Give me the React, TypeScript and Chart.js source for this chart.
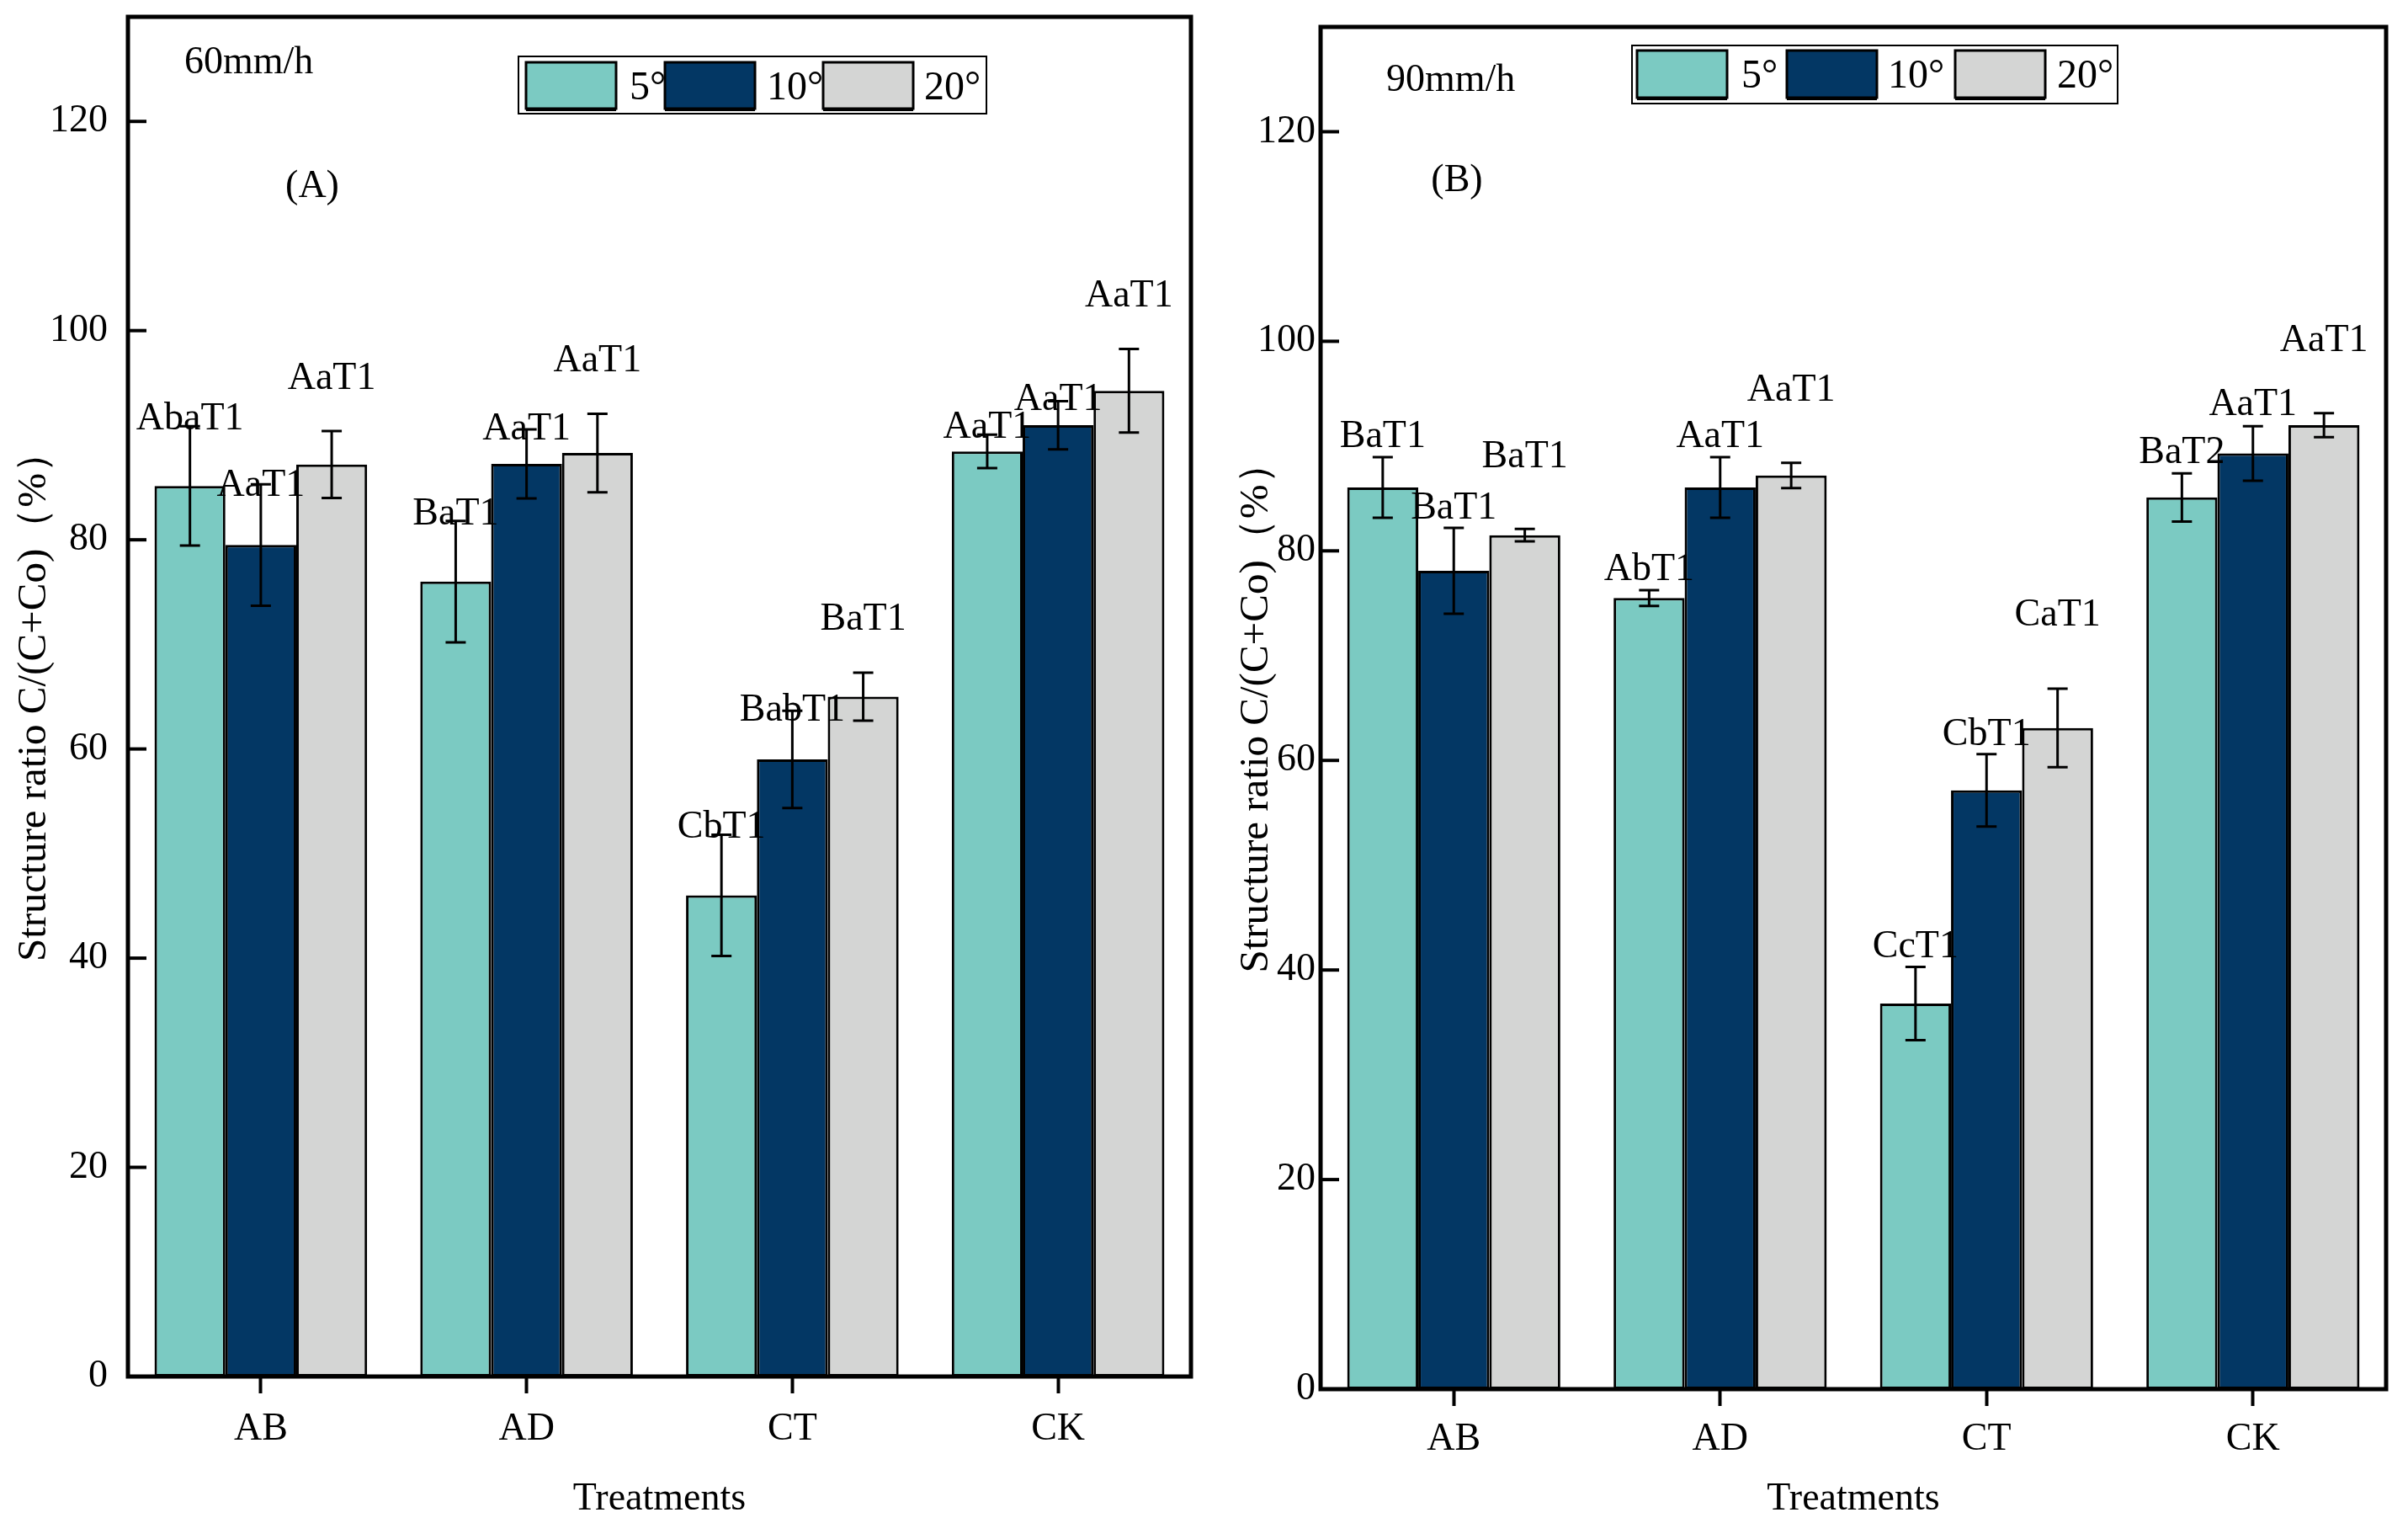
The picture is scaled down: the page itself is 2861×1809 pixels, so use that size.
import React, { useEffect, useRef } from 'react';
import { Chart, registerables } from 'chart.js';

Chart.register(...registerables);

const categories = ['AB', 'AD', 'CT', 'CK'];
const seriesNames = ['5°', '10°', '20°'];
const colors = ['#7BCAC2', '#033764', '#D4D5D4'];
const yTicks = [0, 20, 40, 60, 80, 100, 120];

// panel A, 60 mm/h
const a5 = [85.15, 76.0, 46.0, 88.45];
const a10 = [79.5, 87.25, 59.0, 90.95];
const a20 = [87.2, 88.3, 65.0, 94.25];
const aErr5 = [5.7, 5.8, 5.8, 1.6];
const aErr10 = [5.8, 3.3, 4.65, 2.3];
const aErr20 = [3.2, 3.75, 2.3, 4.0];
const aLab5 = ['AbaT1', 'BaT1', 'CbT1', 'AaT1'];
const aLab10 = ['AaT1', 'AaT1', 'BabT1', 'AaT1'];
const aLab20 = ['AaT1', 'AaT1', 'BaT1', 'AaT1'];
const aLabY5 = [91.8, 82.7, 52.7, 91.0];
const aLabY10 = [85.4, 90.8, 63.9, 93.6];
const aLabY20 = [95.6, 97.3, 72.6, 103.5];

// panel B, 90 mm/h
const b5 = [86.05, 75.5, 36.8, 85.1];
const b10 = [78.1, 86.05, 57.15, 89.3];
const b20 = [81.5, 87.2, 63.1, 92.0];
const bErr5 = [2.9, 0.75, 3.5, 2.3];
const bErr10 = [4.1, 2.9, 3.45, 2.6];
const bErr20 = [0.6, 1.2, 3.75, 1.15];
const bLab5 = ['BaT1', 'AbT1', 'CcT1', 'BaT2'];
const bLab10 = ['BaT1', 'AaT1', 'CbT1', 'AaT1'];
const bLab20 = ['BaT1', 'AaT1', 'CaT1', 'AaT1'];
const bLabY5 = [91.1, 78.4, 42.4, 89.6];
const bLabY10 = [84.3, 91.1, 62.7, 94.2];
const bLabY20 = [89.2, 95.5, 74.1, 100.3];

const FONT = '"Liberation Serif", "Times New Roman", serif';

interface PanelProps {
  values: number[][];
  errors: number[][];
  labels: string[][];
  labelY: number[][];
  rate: string;
  tag: string;
  left: number;
  width: number;
  padTop: number;
  padRight: number;
  yAxisWidth: number;
  xAxisHeight: number;
  yTickPad: number;
  yTitlePad: number;
  xTickPad: number;
  legend: { x: number; y: number; w: number; h: number; sx: number[]; tx: number[]; sy: number; sw: number; sh: number };
  rateXY: [number, number];
  tagXY: [number, number];
}

const BarPanel: React.FC<PanelProps> = (p) => {
  const ref = useRef<HTMLCanvasElement>(null);

  useEffect(() => {
    if (!ref.current) return;

    const decor = {
      id: 'decor',
      afterDatasetsDraw(chart: any) {
        const ctx = chart.ctx;
        const ys = chart.scales.y;
        ctx.save();
        // error bars
        ctx.strokeStyle = '#000';
        ctx.lineWidth = 3;
        p.values.forEach((vals, i) => {
          const meta = chart.getDatasetMeta(i);
          vals.forEach((v, j) => {
            const x = meta.data[j].x;
            const t = ys.getPixelForValue(v + p.errors[i][j]);
            const b = ys.getPixelForValue(v - p.errors[i][j]);
            ctx.beginPath();
            ctx.moveTo(x, t);
            ctx.lineTo(x, b);
            ctx.moveTo(x - 12, t);
            ctx.lineTo(x + 12, t);
            ctx.moveTo(x - 12, b);
            ctx.lineTo(x + 12, b);
            ctx.stroke();
          });
        });
        // significance letters
        ctx.fillStyle = '#000';
        ctx.font = `46px ${FONT}`;
        ctx.textAlign = 'center';
        ctx.textBaseline = 'alphabetic';
        p.labels.forEach((labs, i) => {
          const meta = chart.getDatasetMeta(i);
          labs.forEach((s, j) => {
            ctx.fillText(s, meta.data[j].x, ys.getPixelForValue(p.labelY[i][j]) + 15);
          });
        });
        ctx.restore();
      },
      afterDraw(chart: any) {
        const ctx = chart.ctx;
        const a = chart.chartArea;
        const ys = chart.scales.y;
        ctx.save();
        // frame
        ctx.strokeStyle = '#000';
        ctx.lineWidth = 5;
        ctx.strokeRect(a.left, a.top, a.right - a.left, a.bottom - a.top);
        // inward y ticks
        ctx.lineWidth = 4;
        yTicks.forEach((v) => {
          const y = ys.getPixelForValue(v);
          ctx.beginPath();
          ctx.moveTo(a.left, y);
          ctx.lineTo(a.left + 22, y);
          ctx.stroke();
        });
        // legend
        const L = p.legend;
        ctx.lineWidth = 2;
        ctx.fillStyle = '#fff';
        ctx.fillRect(L.x, L.y, L.w, L.h);
        ctx.strokeRect(L.x, L.y, L.w, L.h);
        ctx.font = `48px ${FONT}`;
        ctx.textAlign = 'left';
        ctx.textBaseline = 'alphabetic';
        seriesNames.forEach((n, i) => {
          ctx.fillStyle = colors[i];
          ctx.fillRect(L.sx[i], L.sy, L.sw, L.sh);
          ctx.lineWidth = 3;
          ctx.strokeRect(L.sx[i], L.sy, L.sw, L.sh);
          ctx.beginPath();
          ctx.moveTo(L.sx[i], L.sy + L.sh + 1.5);
          ctx.lineTo(L.sx[i] + L.sw, L.sy + L.sh + 1.5);
          ctx.stroke();
          ctx.fillStyle = '#000';
          ctx.fillText(n, L.tx[i], L.sy + L.sh / 2 + 16);
        });
        // panel texts
        ctx.font = `46px ${FONT}`;
        ctx.fillText(p.rate, p.rateXY[0], p.rateXY[1] + 15);
        ctx.textAlign = 'center';
        ctx.fillText(p.tag, p.tagXY[0], p.tagXY[1] + 15);
        ctx.restore();
      },
    };

    const chart = new Chart(ref.current, {
      type: 'bar',
      data: {
        labels: categories,
        datasets: seriesNames.map((n, i) => ({
          label: n,
          data: p.values[i],
          backgroundColor: colors[i],
          borderColor: '#000',
          borderWidth: 3,
          borderSkipped: false,
          categoryPercentage: 0.8,
          barPercentage: 1.0,
        })),
      },
      options: {
        responsive: false,
        animation: false,
        devicePixelRatio: 1,
        layout: { padding: { top: p.padTop, right: p.padRight, left: 0, bottom: 0 } },
        plugins: { legend: { display: false }, tooltip: { enabled: false } },
        scales: {
          x: {
            border: { display: false },
            grid: { display: true, drawOnChartArea: false, offset: false, tickLength: 20, tickWidth: 4, tickColor: '#000' },
            ticks: { color: '#000', padding: p.xTickPad, font: { family: FONT, size: 46 } },
            title: { display: true, text: 'Treatments', color: '#000', padding: { top: 0, bottom: 0 }, font: { family: FONT, size: 46, lineHeight: 1.2 } },
            afterFit: (s: any) => {
              s.height = p.xAxisHeight;
              s.paddingLeft = 0;
              s.paddingRight = 0;
            },
          },
          y: {
            min: 0,
            max: 130,
            border: { display: false },
            grid: { display: false, drawTicks: false },
            ticks: { stepSize: 20, color: '#000', padding: p.yTickPad, font: { family: FONT, size: 46 } },
            afterBuildTicks: (s: any) => { s.ticks = s.ticks.filter((t: any) => yTicks.includes(t.value)); },
            title: { display: true, text: 'Structure ratio C/(C+Co)（%）', color: '#000', padding: { top: p.yTitlePad, bottom: 0 }, font: { family: FONT, size: 49, lineHeight: 1.2 } },
            afterFit: (s: any) => {
              s.width = p.yAxisWidth;
              s.paddingTop = 0;
              s.paddingBottom = 0;
            },
          },
        },
      },
      plugins: [decor],
    });

    return () => {
      chart.destroy();
    };
  }, [p]);

  return (
    <canvas
      ref={ref}
      width={p.width}
      height={1809}
      style={{ position: 'absolute', left: p.left, top: 0, width: p.width, height: 1809 }}
    />
  );
};

const panelA: PanelProps = {
  values: [a5, a10, a20],
  errors: [aErr5, aErr10, aErr20],
  labels: [aLab5, aLab10, aLab20],
  labelY: [aLabY5, aLabY10, aLabY20],
  rate: '60mm/h',
  tag: '(A)',
  left: 0,
  width: 1430,
  padTop: 20,
  padRight: 15,
  yAxisWidth: 152,
  xAxisHeight: 174,
  yTickPad: 24,
  yTitlePad: 12,
  xTickPad: 15,
  legend: { x: 616, y: 67, w: 556, h: 68, sx: [625, 790, 978], tx: [748, 911, 1098], sy: 74, sw: 107, sh: 55 },
  rateXY: [219, 72],
  tagXY: [371, 219],
};

const panelB: PanelProps = {
  values: [b5, b10, b20],
  errors: [bErr5, bErr10, bErr20],
  labels: [bLab5, bLab10, bLab20],
  labelY: [bLabY5, bLabY10, bLabY20],
  rate: '90mm/h',
  tag: '(B)',
  left: 1430,
  width: 1431,
  padTop: 32,
  padRight: 26,
  yAxisWidth: 139,
  xAxisHeight: 159,
  yTickPad: 6,
  yTitlePad: 34,
  xTickPad: 12,
  legend: { x: 509, y: 54, w: 577, h: 69, sx: [515, 693, 893], tx: [639, 813, 1014], sy: 60, sw: 107, sh: 56 },
  rateXY: [217, 93],
  tagXY: [301, 212],
};

export default function App() {
  return (
    <div style={{ position: 'fixed', left: 0, top: 0, width: 2861, height: 1809, background: '#fff' }}>
      <BarPanel {...panelA} />
      <BarPanel {...panelB} />
    </div>
  );
}
